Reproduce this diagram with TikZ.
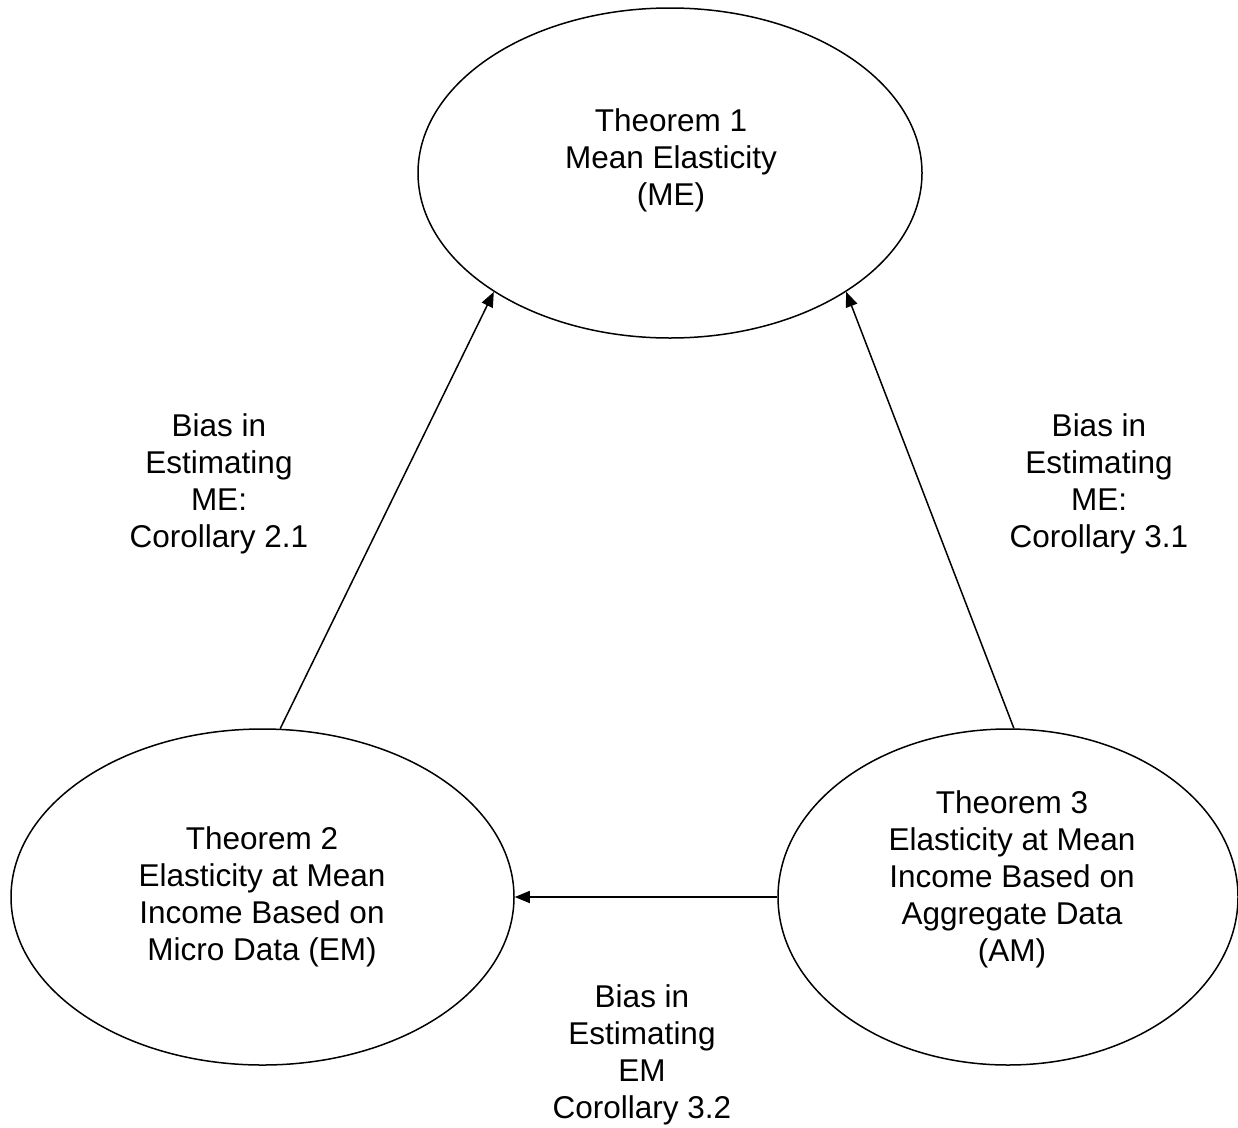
\documentclass[tikz,border=0pt]{standalone}
\usepackage{fontspec}
\setmainfont{Liberation Sans}
\usetikzlibrary{shapes.geometric,arrows.meta}
\begin{document}
\begin{tikzpicture}[x=1pt,y=-1pt,
  oval/.style={draw,ellipse,inner sep=0pt,line width=1.5pt},
  txt/.style={align=center,font=\fontsize{31.5}{37}\selectfont,inner sep=0pt},
  conn/.style={line width=1.5pt,-{Triangle[length=15pt,width=12pt]}}]
\useasboundingbox[fill=white] (0,0) rectangle (1238,1127);
\node[oval,minimum width=504pt,minimum height=330pt] (th1) at (670,173) {};
\node[oval,minimum width=503pt,minimum height=336pt] (th2) at (262.5,897) {};
\node[oval,minimum width=460pt,minimum height=336pt] (th3) at (1008,897) {};
\node[txt] (th1txt) at (671,160) {Theorem 1\\Mean Elasticity\\(ME)};
\node[txt] (th2txt) at (262,897) {Theorem 2\\Elasticity at Mean\\Income Based on\\Micro Data (EM)};
\node[txt] (th3txt) at (1012,879) {Theorem 3\\Elasticity at Mean\\Income Based on\\Aggregate Data\\(AM)};
\draw[conn] (th2.84.8) -- (th1.214.5);
\draw[conn] (th3.88.6) -- (th1.326.3);
\draw[conn] (th3.west) -- (th2.east);
\node[txt] (l21) at (219,484) {Bias in\\Estimating\\ME:\\Corollary 2.1};
\node[txt] (l31) at (1099,484) {Bias in\\Estimating\\ME:\\Corollary 3.1};
\node[txt] (l32) at (642,1055) {Bias in\\Estimating\\EM\\Corollary 3.2};
\end{tikzpicture}
\end{document}
